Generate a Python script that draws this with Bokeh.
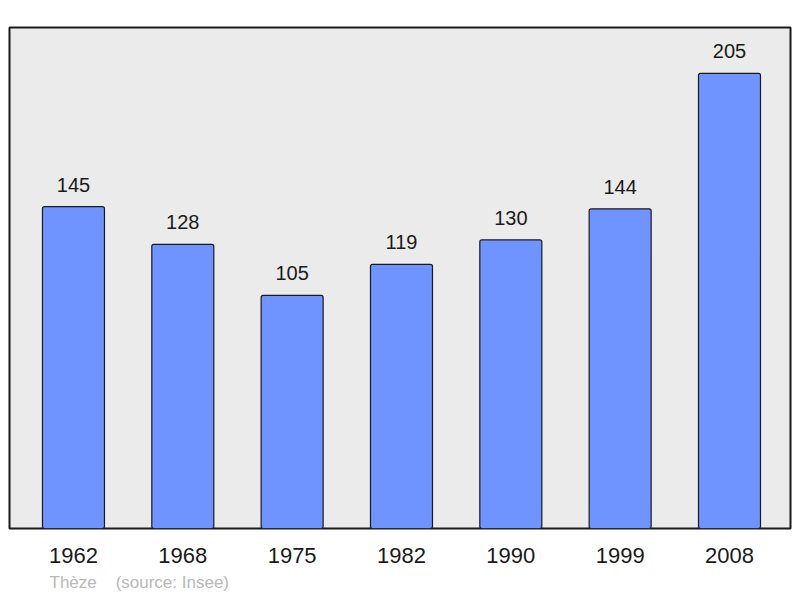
from bokeh.plotting import figure
from bokeh.models import ColumnDataSource, FixedTicker, Range1d, Title
from bokeh.core.properties import value
from bokeh.embed import file_html
from bokeh.resources import INLINE

years = ["1962", "1968", "1975", "1982", "1990", "1999", "2008"]
population = [145, 128, 105, 119, 130, 144, 205]
commune = "Thèze"
source = "(source: Insee)"

xs = list(range(len(years)))
src = ColumnDataSource(dict(x=xs, top=population, label=[str(v) for v in population]))

p = figure(width=800, height=598, output_backend="svg", toolbar_location=None,
           x_range=Range1d(-0.585, 6.558), y_range=Range1d(0, 225.7),
           min_border_left=9, min_border_right=10, min_border_top=27, min_border_bottom=70)
p.background_fill_color = "#ebebeb"
p.border_fill_color = "white"
p.outline_line_color = "#1a1a1a"
p.outline_line_width = 2
p.grid.visible = False
p.yaxis.visible = False

p.vbar(x="x", top="top", width=0.567, bottom=0, source=src,
       fill_color="#7094ff", line_color="#1a1a1a", line_width=1.2, border_radius=2)
p.text(x="x", y="top", text="label", source=src, text_align="center", text_baseline="alphabetic",
       y_offset=-22, text_font=value("Liberation Sans"), text_font_size="20px", text_color="#1a1a1a")

ax = p.xaxis[0]
ax.ticker = FixedTicker(ticks=xs)
ax.major_label_overrides = {i: y for i, y in enumerate(years)}
ax.axis_line_color = None
ax.major_tick_line_color = None
ax.minor_tick_line_color = None
ax.major_label_text_font = "Liberation Sans"
ax.major_label_text_font_size = "22px"
ax.major_label_text_color = "#1a1a1a"
ax.major_label_standoff = 13

footer = Title(text=commune + "\u00a0\u00a0\u00a0\u00a0" + source, align="left", offset=40,
               text_font="Liberation Sans", text_font_size="17px", text_font_style="normal",
               text_color="#b8b8b8", standoff=11)
p.add_layout(footer, "below")

open("out.html", "w").write(file_html(p, INLINE))
